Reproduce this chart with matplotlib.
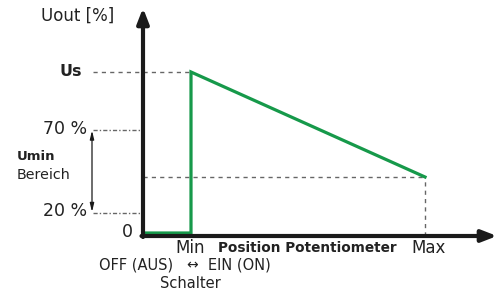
import matplotlib
matplotlib.use("Agg")
import matplotlib.pyplot as plt

# schematic levels (units ~ pixels above the x-axis)
level_us = 164
level_70 = 106.5
level_20 = 23
level_off = 3
level_end = 59

# positions along the potentiometer axis
pos_min = 48
pos_max = 282
pos_axis_end = 354
y_axis_top = 228

green = "#16994a"
grey = "#666666"
font = "DejaVu Sans"

fig = plt.figure(figsize=(4.98, 2.93), dpi=100)
ax = fig.add_axes([0, 0, 1, 1])
ax.set_xlim(-143, 355)
ax.set_ylim(-57, 236)
ax.axis("off")

# axes with arrows
ax.annotate("", xy=(0, y_axis_top), xytext=(0, -1),
            arrowprops=dict(arrowstyle="-|>,head_length=0.9,head_width=0.35",
                            lw=3, color="#1a1a1a", shrinkA=0, shrinkB=0))
ax.annotate("", xy=(pos_axis_end, 0), xytext=(-1.5, 0),
            arrowprops=dict(arrowstyle="-|>,head_length=0.9,head_width=0.35",
                            lw=3, color="#1a1a1a", shrinkA=0, shrinkB=0))

# guide lines
ax.plot([-50, pos_min], [level_us, level_us], ls=(0, (3, 3)), color=grey, lw=1)
ax.plot([0, pos_max], [level_end, level_end], ls=(0, (3, 3)), color=grey, lw=1)
ax.plot([pos_max, pos_max], [0, level_end], ls=(0, (3, 3)), color=grey, lw=1)
ax.plot([-50, -1], [level_70, level_70], ls=(0, (3, 1.5, 1, 1.5)), color=grey, lw=1)
ax.plot([-50, -1], [level_20, level_20], ls=(0, (3, 1.5, 1, 1.5)), color=grey, lw=1)

# Umin range arrow
ax.annotate("", xy=(-51, level_70 - 1), xytext=(-51, level_20 + 1),
            arrowprops=dict(arrowstyle="<|-|>,head_length=0.5,head_width=0.12",
                            lw=0.9, color="#1a1a1a", shrinkA=0, shrinkB=0))

# output curve
curve_x = [2, pos_min, pos_min, pos_max]
curve_y = [level_off, level_off, level_us, level_end]
ax.plot(curve_x, curve_y, color=green, lw=2.3, solid_joinstyle="miter")

txt = dict(family=font, color="#222222")
ax.text(-65.5, 220, "Uout [%]", fontsize=12, ha="center", va="center", **txt)
ax.text(-72, level_us, "Us", fontsize=11.5, weight="bold", ha="center", va="center", **txt)
ax.text(-56, level_70 + 1, "70 %", fontsize=12.5, ha="right", va="center", **txt)
ax.text(-56, level_20 + 2.5, "20 %", fontsize=12.5, ha="right", va="center", **txt)
ax.text(-15.5, 4, "0", fontsize=12.5, ha="center", va="center", **txt)
ax.text(-126, 79.5, "Umin", fontsize=9.5, weight="bold", ha="left", va="center", **txt)
ax.text(-126, 61, "Bereich", fontsize=10.3, ha="left", va="center", **txt)
ax.text(pos_min - 1, -12, "Min", fontsize=12, ha="center", va="center", **txt)
ax.text(75, -12, "Position Potentiometer", fontsize=9.8, weight="bold",
        ha="left", va="center", **txt)
ax.text(pos_max + 4, -12, "Max", fontsize=12, ha="center", va="center", **txt)
ax.text(30, -29, "OFF (AUS)", fontsize=10.5, ha="right", va="center", **txt)
ax.text(pos_min + 1, -29, "\u2194", fontsize=10, ha="center", va="center", **txt)
ax.text(65, -29, "EIN (ON)", fontsize=10.5, ha="left", va="center", **txt)
ax.text(47, -47, "Schalter", fontsize=10.5, ha="center", va="center", **txt)

fig.savefig("out.png", dpi=100)
